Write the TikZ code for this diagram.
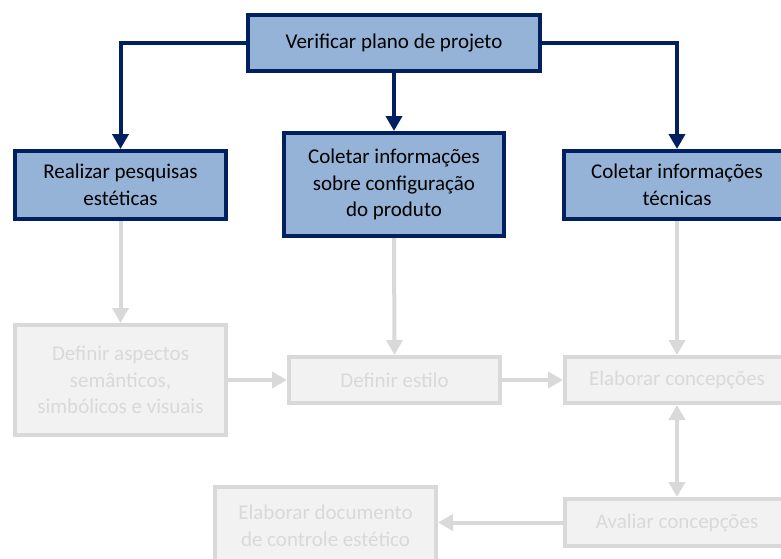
\documentclass[tikz,border=0pt]{standalone}
\usepackage{fontspec}
\setmainfont{Carlito}
\usetikzlibrary{arrows.meta}
\definecolor{navy}{HTML}{002060}
\definecolor{lightblue}{HTML}{95B3D7}
\definecolor{paleGray}{HTML}{F2F2F2}
\definecolor{lineGray}{HTML}{D9D9D9}
\tikzset{
	activebox/.style={draw=navy, fill=lightblue, line width=4pt, align=center, inner sep=0pt, text=black},
	fadedbox/.style={draw=lineGray, fill=paleGray, line width=4pt, align=center, inner sep=0pt, text=lineGray},
	activearrow/.style={draw=navy, line width=4pt, -{Triangle[length=15pt,width=16pt]}},
	fadedarrow/.style={draw=lineGray, line width=4pt, -{Triangle[length=15pt,width=16pt]}}
}

\begin{document}
\begin{tikzpicture}[x=1pt, y=-1pt, font=\fontsize{21}{26.7}\selectfont]
			%%%%% START %%%%%
			\useasboundingbox (0, 0) rectangle (781, 558);
			\clip (0, 0) rectangle (781, 558);
			
			\node[activebox, minimum width=292, minimum height=56] (verify) at (394, 43) {Verificar plano de projeto};
			
			\node[activebox, minimum width=211, minimum height=68] (pesq) at (120.5, 185) {Realizar pesquisas\\estéticas};
			\node[activebox, minimum width=220, minimum height=103] (config) at (394, 184.5) {Coletar informações\\sobre configuração\\do produto};
			\node[activebox, minimum width=226, minimum height=68] (tec) at (677, 185) {Coletar informações\\técnicas};
			
			\node[fadedbox, minimum width=211, minimum height=110] (aspectos) at (120.5, 380) {Definir aspectos\\semânticos,\\simbólicos e visuais};
			\node[fadedbox, minimum width=211, minimum height=46] (estilo) at (394.5, 380) {Definir estilo};
			\node[fadedbox, minimum width=224, minimum height=46] (elab) at (677, 380) {Elaborar concepções};
			
			\node[fadedbox, minimum width=224, minimum height=47] (aval) at (677, 522.5) {Avaliar concepções};
			\node[fadedbox, minimum width=221, minimum height=77] (doc) at (325.5, 525.5) {Elaborar documento\\de controle estético};
			
			\draw[activearrow] (verify.west) -| (pesq.north);
			\draw[activearrow] (verify.south) -- (config.north);
			\draw[activearrow] (verify.east) -| (tec.north);
			
			\draw[fadedarrow] (pesq.south) -- (aspectos.north);
			\draw[fadedarrow] (config.south) -- (estilo.north);
			\draw[fadedarrow] (tec.south) -- (elab.north);
			\draw[fadedarrow] (aspectos.east) -- (estilo.west);
			\draw[fadedarrow] (estilo.east) -- (elab.west);
			\draw[fadedarrow, {Triangle[length=15pt,width=16pt]}-{Triangle[length=15pt,width=16pt]}] (elab.south) -- (aval.north);
			\draw[fadedarrow] (aval.west) -- (aval.west -| doc.east);
			%%%%% END %%%%%
		\end{tikzpicture}
\end{document}
